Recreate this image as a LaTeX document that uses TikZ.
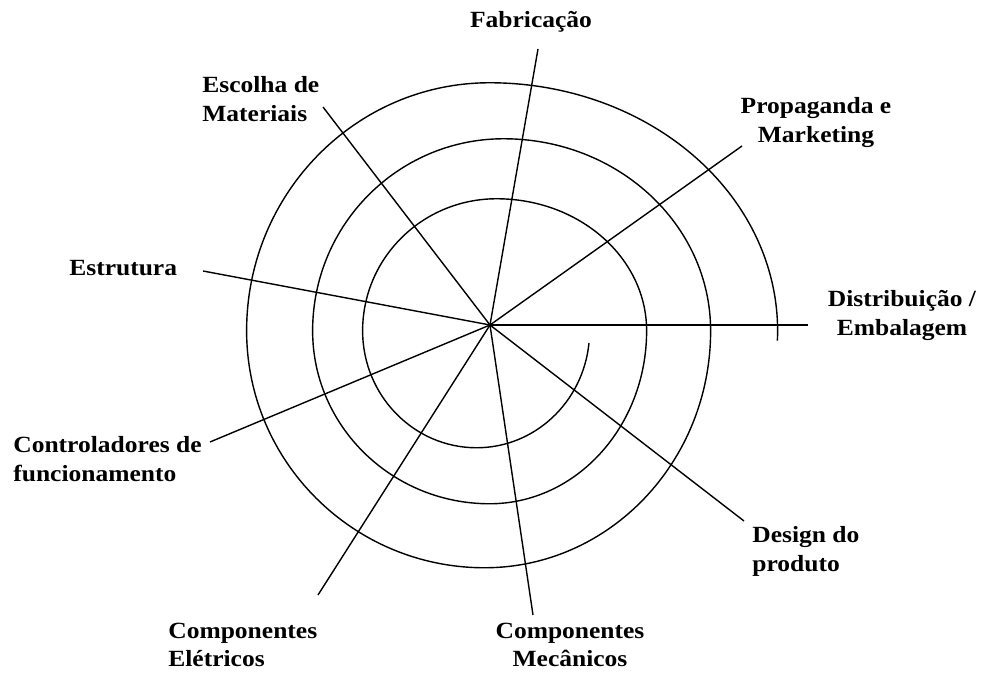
\documentclass[tikz,border=0pt]{standalone}
\usepackage{fontspec}
\setmainfont{Liberation Serif}[FakeStretch=1.1]
\usepackage{tikz}

\begin{document}
\begin{tikzpicture}[
  x=0.2mm, y=0.2mm,
  every node/.style={font=\bfseries\fontsize{13.2}{16.5}\selectfont},
  etapa/.style={inner sep=0pt},
  raio/.style={line width=0.8pt},
  espiral/.style={line width=0.8pt},
]
  \useasboundingbox (0,0) rectangle (988,675);

  % labels (base = last line)
  \node[etapa, anchor=base] (fab) at (531,647) {Fabricação};
  \node[etapa, anchor=base west, align=left] (esc) at (202,553) {Escolha de\\Materiais};
  \node[etapa, anchor=base, align=center] (prop) at (816,532) {Propaganda e\\Marketing};
  \node[etapa, anchor=base, align=center] (dist) at (902,339) {Distribuição /\\Embalagem};
  \node[etapa, anchor=base west] (estr) at (69,399) {Estrutura};
  \node[etapa, anchor=base west, align=left] (ctrl) at (13,193) {Controladores de\\funcionamento};
  \node[etapa, anchor=base west, align=left] (design) at (752,103) {Design do\\produto};
  \node[etapa, anchor=base west, align=left] (ele) at (168,8) {Componentes\\Elétricos};
  \node[etapa, anchor=base, align=center] (mec) at (570,8) {Componentes\\Mecânicos};

  % rays
  \coordinate (c) at (490,350);
  \coordinate (fab-end) at (538,626);
  \coordinate (esc-end) at (323,568);
  \coordinate (prop-end) at (742,529);
  \coordinate (dist-end) at (808,350);
  \coordinate (estr-end) at (203,404);
  \coordinate (ctrl-end) at (210,233);
  \coordinate (design-end) at (744,154);
  \coordinate (mec-end) at (533,60);
  \coordinate (ele-end) at (318,80);
  \foreach \n in {fab,esc,prop,dist,estr,ctrl,design,mec,ele}
    \draw[raio] (c) -- (\n-end);

  % spiral, quarter arcs from the inside out
  \draw[espiral] (589,332)
    arc[start angle=-6, end angle=-90, x radius=113, y radius=117]
    arc[start angle=270, end angle=180, x radius=114, y radius=117]
    arc[start angle=180, end angle=90, x radius=134, y radius=132]
    arc[start angle=90, end angle=0, x radius=150, y radius=132]
    arc[start angle=0, end angle=-90, x radius=157, y radius=173]
    arc[start angle=270, end angle=180, x radius=177, y radius=173]
    arc[start angle=180, end angle=90, x radius=191, y radius=192]
    arc[start angle=90, end angle=0, x radius=207, y radius=192]
    arc[start angle=0, end angle=-90, x radius=226, y radius=237]
    arc[start angle=270, end angle=180, x radius=238, y radius=237]
    arc[start angle=180, end angle=90, x radius=243, y radius=248]
    arc[start angle=90, end angle=-2.3, x radius=288, y radius=248];
\end{tikzpicture}
\end{document}
